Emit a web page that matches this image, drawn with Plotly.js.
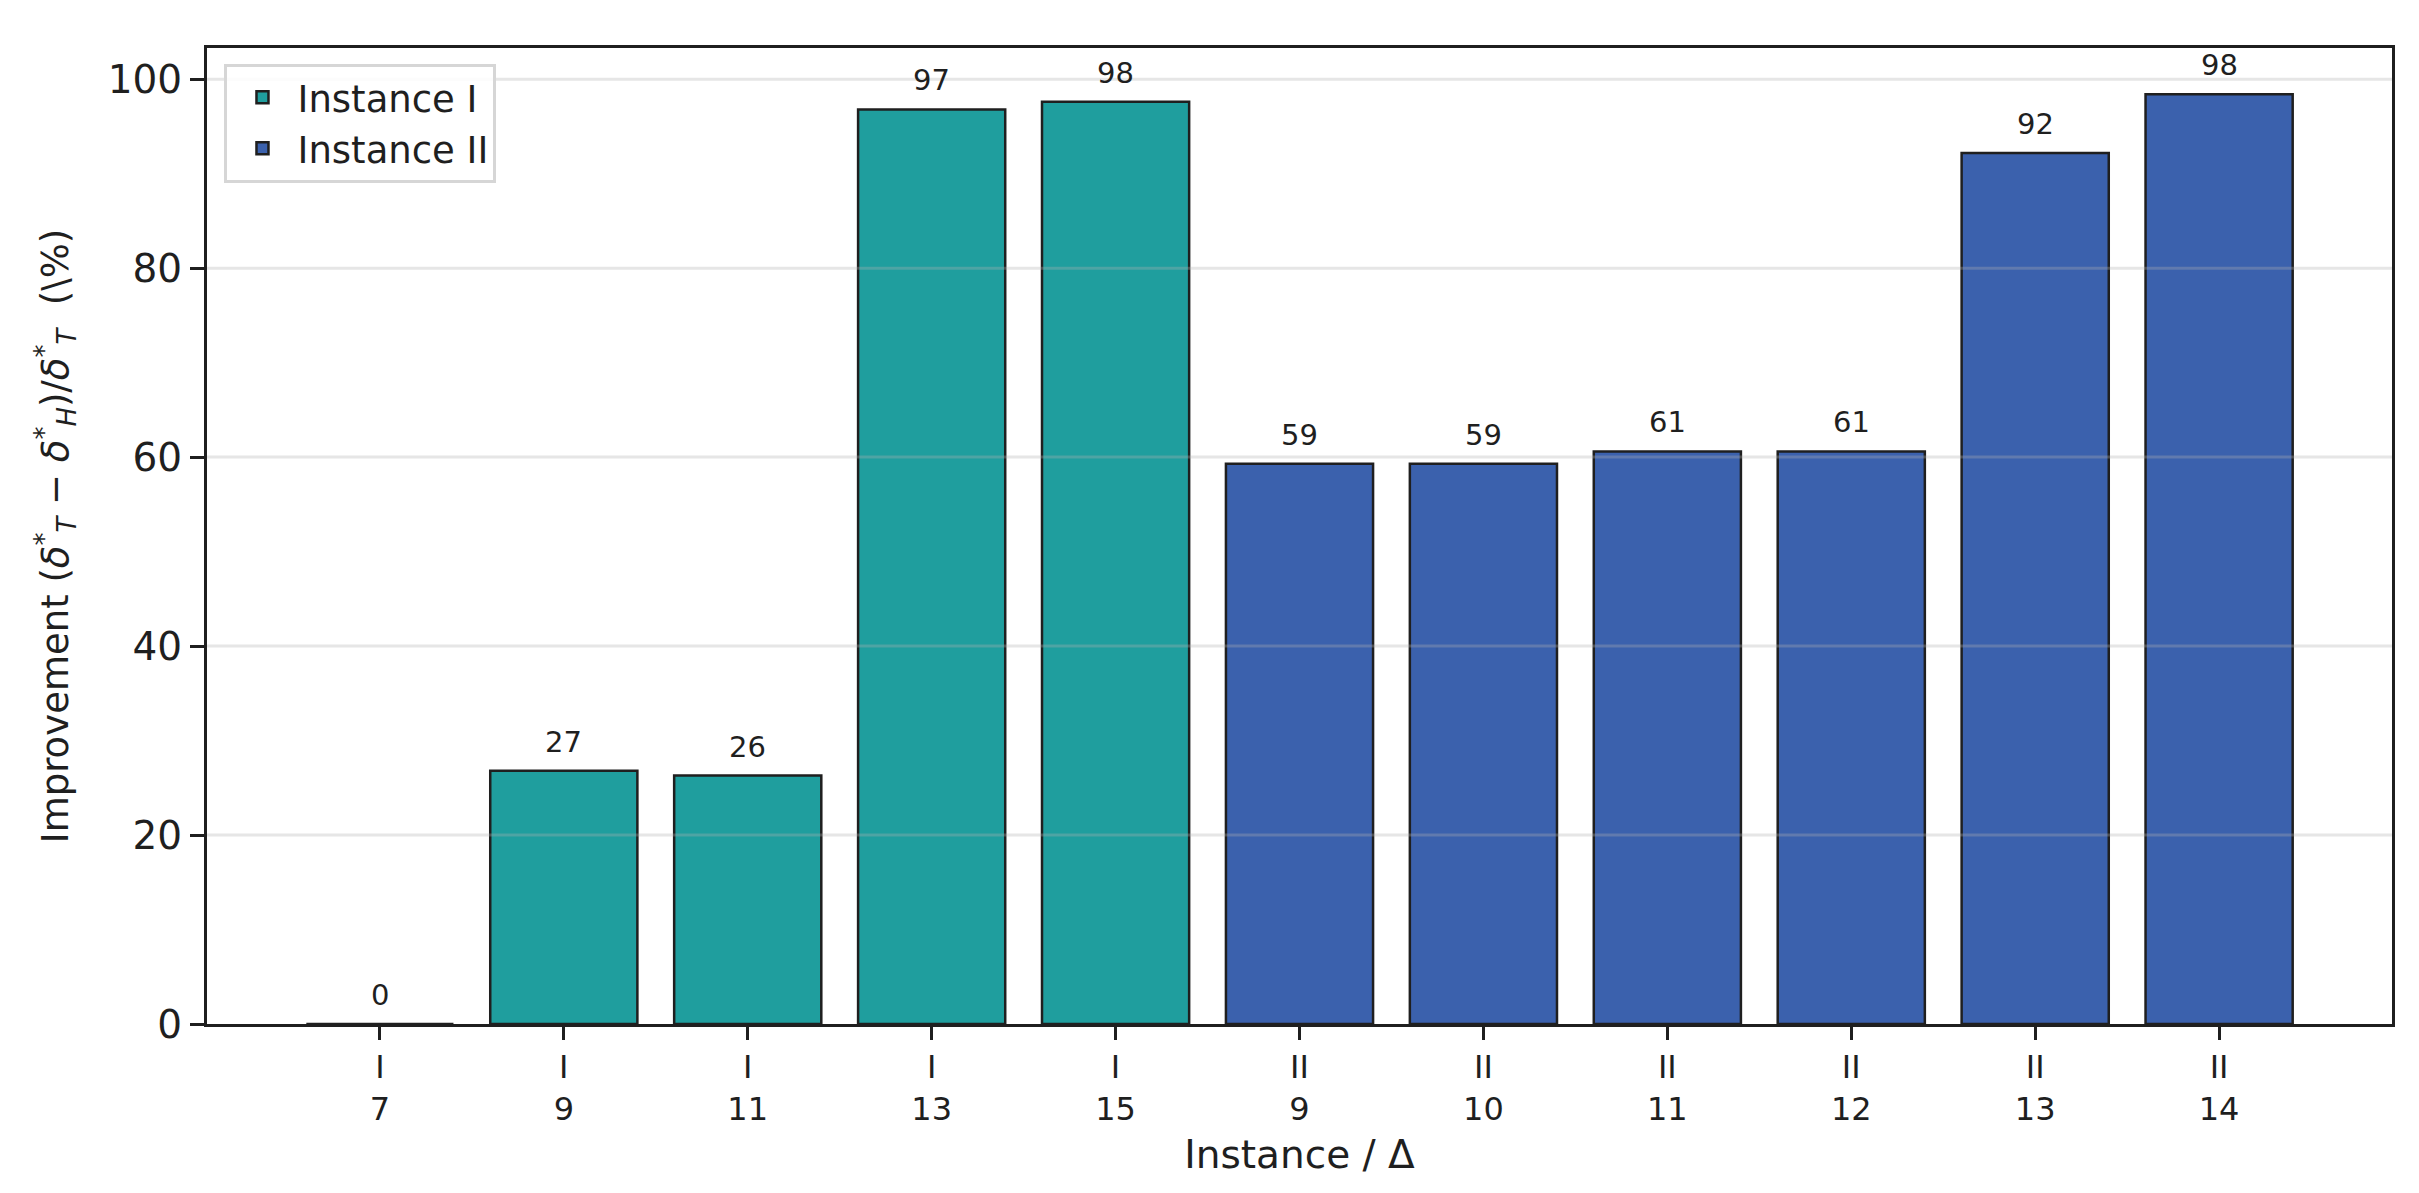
<!DOCTYPE html>
<html>
<head>
<meta charset="utf-8">
<script src="https://cdn.plot.ly/plotly-3.0.1.min.js"></script>
<style>html,body{margin:0;padding:0;background:#fff}</style>
</head>
<body>
<div id="graf"></div>
<script>
// gögn lesin af myndinni
const instances = ['I', 'I', 'I', 'I', 'I', 'II', 'II', 'II', 'II', 'II', 'II'];
const deltas = [7, 9, 11, 13, 15, 9, 10, 11, 12, 13, 14];
const improvement = [0, 26.8, 26.3, 96.8, 97.6, 59.3, 59.3, 60.6, 60.6, 92.2, 98.4];
const seriesNames = ['Instance I', 'Instance II'];
const seriesKeys = ['I', 'II'];
const seriesColors = ['#1f9e9e', '#3b61ad'];
const yTicks = [0, 20, 40, 60, 80, 100];

function drawGraf() {
        const ink = '#1f1f1f';
        const font = 'DejaVu Sans, sans-serif';
        let categories = instances.map((s, i) => s + '<br>' + deltas[i]);

        let traces = seriesKeys.map((key, k) => {
                let x = [], y = [];
                instances.forEach((s, i) => {
                        if (s === key) {
                                x.push(categories[i]);
                                y.push(improvement[i]);
                        }
                });
                return {
                        type: 'bar',
                        name: seriesNames[k],
                        x: x,
                        y: y,
                        width: 0.8,
                        marker: {color: seriesColors[k], line: {color: ink, width: 2.5}},
                        cliponaxis: false,
                        hoverinfo: 'skip',
                };
        });

        // gildin ofan við súlurnar, með smá bili eins og í matplotlib
        let labels = categories.map((c, i) => ({
                x: c, y: improvement[i], xref: 'x', yref: 'y',
                text: improvement[i].toFixed(0),
                showarrow: false,
                yanchor: 'bottom',
                yshift: 10,
                font: {family: font, size: 29, color: ink},
        }));

        // matplotlib teiknar rúðunetið ofan á súlurnar
        let grid = yTicks.slice(1).map(v => ({
                type: 'line', xref: 'paper', yref: 'y',
                x0: 0, x1: 1, y0: v, y1: v,
                line: {color: 'rgba(176,176,176,0.32)', width: 3},
                layer: 'above',
        }));

        let layout = {
                width: 2419,
                height: 1193,
                margin: {l: 207, r: 27, t: 48, b: 169},
                paper_bgcolor: '#ffffff',
                plot_bgcolor: '#ffffff',
                font: {family: font, color: ink},
                barmode: 'overlay',
                bargap: 0,
                shapes: grid,
                annotations: labels,
                xaxis: {
                        type: 'category',
                        categoryorder: 'array',
                        categoryarray: categories,
                        range: [-0.94, 10.94],
                        showgrid: false,
                        showline: true,
                        mirror: true,
                        linecolor: ink,
                        linewidth: 3,
                        ticks: 'outside',
                        ticklen: 13,
                        tickwidth: 3,
                        tickcolor: ink,
                        tickfont: {size: 32, color: ink},
                        automargin: false,
                        title: {text: 'Instance / Δ', font: {size: 39, color: ink}, standoff: 14},
                },
                yaxis: {
                        range: [0, 103.3],
                        tickvals: yTicks,
                        showgrid: false,
                        zeroline: false,
                        showline: true,
                        mirror: true,
                        linecolor: ink,
                        linewidth: 3,
                        ticks: 'outside',
                        ticklen: 14,
                        tickwidth: 3,
                        tickcolor: ink,
                        tickfont: {size: 39, color: ink},
                        automargin: false,
                        title: {
                                text: 'Improvement (<i>δ</i><sup>*</sup><sub><i>T</i></sub> − <i>δ</i><sup>*</sup><sub><i>H</i></sub>)/<i>δ</i><sup>*</sup><sub><i>T</i></sub>  (\\%)',
                                font: {size: 37, color: ink},
                                standoff: 28,
                        },
                },
                showlegend: true,
                legend: {
                        x: 0.008, y: 0.984,
                        xanchor: 'left', yanchor: 'top',
                        bgcolor: 'rgba(255,255,255,0.85)',
                        bordercolor: '#d6d6d6',
                        borderwidth: 3,
                        font: {size: 37, color: ink},
                        itemwidth: 60,
                },
        };

        Plotly.newPlot(document.getElementById('graf'), traces, layout, {displayModeBar: false, staticPlot: true});
}
drawGraf();
</script>
</body>
</html>
